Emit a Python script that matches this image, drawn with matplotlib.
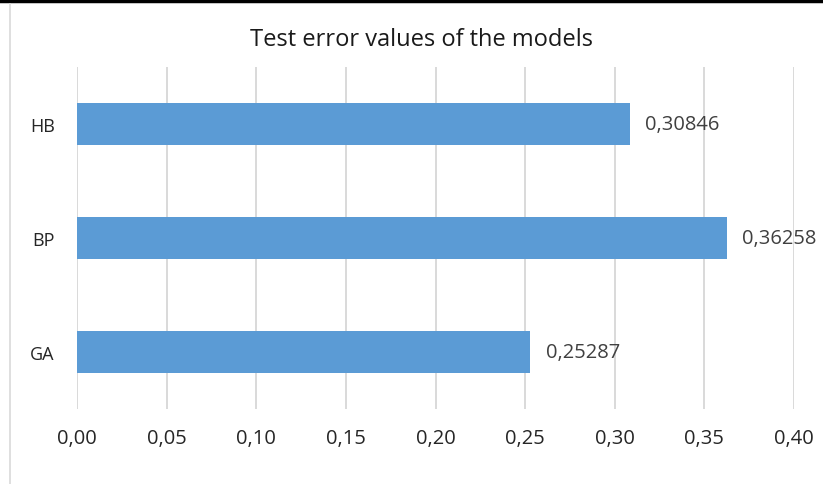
import matplotlib
matplotlib.use("Agg")
import matplotlib.pyplot as plt
from matplotlib.lines import Line2D
from matplotlib.ticker import FuncFormatter

categories = ["GA", "BP", "HB"]
values = [0.25287, 0.36258, 0.30846]
xticks = [0.00, 0.05, 0.10, 0.15, 0.20, 0.25, 0.30, 0.35, 0.40]
title = "Test error values of the models"

plt.rcParams['font.family'] = ['Open Sans', 'DejaVu Sans']

W, H = 823, 485
fig = plt.figure(figsize=(W / 100, H / 100), dpi=100)
ax = fig.add_axes([77 / W, 1 - 410 / H, (794 - 77) / W, (410 - 68) / H])

bars = ax.barh(categories, values, height=0.37, color="#5b9bd5", zorder=3)
ax.set_xlim(0, 0.40)
ax.set_ylim(-0.5, 2.5)
ax.set_xticks(xticks)
ax.xaxis.set_major_formatter(FuncFormatter(lambda v, p: f"{v:.2f}".replace(".", ",")))
ax.grid(axis="x", color="#d9d9d9", linewidth=1.4, zorder=0)
for s in ax.spines.values():
    s.set_visible(False)
ax.tick_params(axis="both", length=0, colors="#262626")
ax.tick_params(axis="x", pad=14, labelsize=14.5)
ax.tick_params(axis="y", pad=16, labelsize=13)

for b, v in zip(bars, values):
    ax.annotate(f"{v:.5f}".replace(".", ","), (b.get_width(), b.get_y() + b.get_height() / 2),
                xytext=(11, 0), textcoords="offset points", va="center", ha="left",
                fontsize=14.5, color="#404040")

fig.text(422 / W, 1 - 40 / H, title, ha="center", va="center", fontsize=17, color="#1a1a1a")

# screenshot borders
fig.add_artist(Line2D([0, 1], [1 - 1.5 / H, 1 - 1.5 / H], color="black", linewidth=2.5, transform=fig.transFigure))
fig.add_artist(Line2D([10 / W, 10 / W], [0, 1 - 5 / H], color="#d9d9d9", linewidth=1.2, transform=fig.transFigure))

fig.savefig("out.png", dpi=100)
